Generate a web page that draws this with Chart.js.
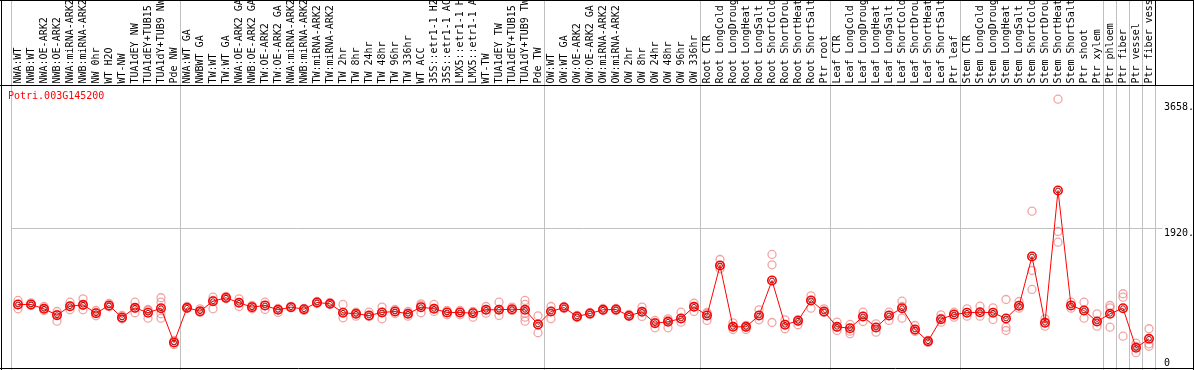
<!DOCTYPE html>
<html>
<head>
<meta charset="utf-8">
<script src="https://cdn.jsdelivr.net/npm/chart.js@4.4.0/dist/chart.umd.min.js"></script>
<style>
html,body{margin:0;padding:0;background:#fff;overflow:hidden;}
#wrap{width:1194px;height:370px;position:relative;}
canvas{display:block;}
</style>
</head>
<body>
<div id="wrap"><canvas id="c" width="1194" height="370"></canvas></div>
<script>
// ---------- data ----------
const geneId = 'Potri.003G145200';

const categories = [
  'NWA:WT','NWB:WT','NWA:OE-ARK2','NWB:OE-ARK2','NWA:miRNA-ARK2','NWB:miRNA-ARK2','NW 0hr','WT H2O','WT-NW',
  'TUA1dEY NW','TUA1dEY+TUB15 NW','TUA1dY+TUB9 NW','Pde NW',
  'NWA:WT GA','NWBWT GA','TW:WT','TW:WT GA','NWA:OE-ARK2 GA','NWB:OE-ARK2 GA','TW:OE-ARK2','TW:OE-ARK2 GA',
  'NWA:miRNA-ARK2','NWB:miRNA-ARK2','TW:miRNA-ARK2','TW:miRNA-ARK2','TW 2hr','TW 8hr','TW 24hr','TW 48hr',
  'TW 96hr','TW 336hr','WT ACC','35S::etr1-1 H2O','35S::etr1-1 ACC','LMX5::etr1-1 H2O','LMX5::etr1-1 ACC',
  'WT-TW','TUA1dEY TW','TUA1dEY+TUB15 TW','TUA1dY+TUB9 TW','Pde TW',
  'OW:WT','OW:WT GA','OW:OE-ARK2','OW:OE-ARK2 GA','OW:miRNA-ARK2','OW:miRNA-ARK2','OW 2hr','OW 8hr',
  'OW 24hr','OW 48hr','OW 96hr','OW 336hr',
  'Root CTR','Root LongCold','Root LongDrought','Root LongHeat','Root LongSalt','Root ShortCold',
  'Root ShortDrought','Root ShortHeat','Root ShortSalt','Ptr root',
  'Leaf CTR','Leaf LongCold','Leaf LongDrought','Leaf LongHeat','Leaf LongSalt','Leaf ShortCold',
  'Leaf ShortDrought','Leaf ShortHeat','Leaf ShortSalt','Ptr leaf',
  'Stem CTR','Stem LongCold','Stem LongDrought','Stem LongHeat','Stem LongSalt','Stem ShortCold',
  'Stem ShortDrought','Stem ShortHeat','Stem ShortSalt','Ptr shoot','Ptr xylem',
  'Ptr phloem','Ptr fiber','Ptr vessel','Ptr fiber vessel'
];

// index of the first category of each group (group separators)
const groupStarts = [0, 13, 41, 53, 63, 73, 84, 85, 86, 87, 88];

const meanValues = [
  880, 880, 820, 733, 856, 875, 760, 866, 701, 834, 766, 829, 357,
  834, 788, 925, 972, 903, 843, 866, 807, 843, 815, 907, 889, 766, 752, 728, 770,
  783, 752, 843, 820, 770, 770, 760, 807, 807, 815, 807, 605,
  783, 838, 715, 756, 807, 811, 724, 779, 623, 642, 687, 848,
  728, 1416, 573, 573, 728, 1209, 601, 656, 935, 783,
  573, 554, 715, 564, 728, 829, 536, 375, 678, 742,
  766, 774, 766, 687, 862, 1539, 628, 2446, 866, 797, 646,
  752, 829, 284, 408
];

const replicates = [
  [935,820,880],[903,866,880],[852,797,825],[783,650,742],[911,807,852],[958,807,866],
  [724,797,770],[893,852,852],[728,683,687],[911,766,825],[811,691,797],[972,911,752,691],
  [385,330,357],
  [852,825,834],[820,770,783],[980,820,935],[990,962,962],[958,852,907],[820,866,852],
  [911,811,866],[770,825,811],[852,838,843],[825,797,815],[921,893,907],[907,880,889],
  [880,697,770],[774,719,756],[774,715,728],[843,683,770],[811,756,783],[719,783,756],
  [889,766,866],[880,783,825],[797,738,770],[797,738,770],[705,783,770],[852,760,811],
  [911,728,811],[843,797,811],[935,880,760,705,650],[724,491,605],
  [852,683,783],[852,825,838],[728,701,715],[770,742,756],[825,797,807],[825,797,811],
  [742,715,724],[843,715,783],[660,559,632],[683,559,660],[774,636,687],[897,783,852],
  [660,756,770],[1498,1370,1416],[628,536,577],[536,591,564],[807,669,728],[1567,1425,632],
  [669,546,605],[601,673,646],[999,829,935],[820,770,783],
  [636,522,564],[605,477,513],[774,646,715],[614,499,564],[774,660,728],[925,691,852],
  [591,509,522],[385,357,371],[738,636,687],[774,705,742],
  [820,719,770],[856,719,770],[834,673,770],[948,568,522],[921,829,866],[2162,1347,1086],
  [683,581,632],[1883,1736,3701],[911,829,866],[911,691,797],[752,581,646],
  [866,834,568],[1027,980,444],[348,216,302],[546,339,306]
];

const yTickValues = [0, 1920, 3658];
const yTickLabels = ['0', '1920.', '3658.'];
const yMax = 3889;

// ---------- chart ----------
const FONT = "'DejaVu Sans Mono', monospace";
const maxReps = Math.max(...replicates.map(r => r.length));
const repDatasets = [];
for (let k = 0; k < maxReps; k++) {
  repDatasets.push({
    label: 'rep' + (k + 1),
    data: replicates.map(r => (r[k] === undefined ? null : r[k])),
    showLine: false,
    pointStyle: 'circle',
    pointRadius: 4,
    pointBorderWidth: 1.3,
    pointBorderColor: 'rgba(235,125,125,0.7)',
    pointBackgroundColor: 'rgba(0,0,0,0)',
    order: 5
  });
}

const framePlugin = {
  id: 'framePlugin',
  beforeDatasetsDraw(chart) {
    const ctx = chart.ctx;
    const xs = chart.scales.x;
    const half = (xs.getPixelForValue(1) - xs.getPixelForValue(0)) / 2;
    ctx.save();
    ctx.strokeStyle = '#c0c0c0';
    ctx.lineWidth = 1;
    groupStarts.forEach(g => {
      const px = g < categories.length ? xs.getPixelForValue(g) - half : xs.getPixelForValue(categories.length - 1) + half;
      const x = Math.floor(px) + 0.5;
      ctx.beginPath();
      ctx.moveTo(x, 0);
      ctx.lineTo(x, chart.height);
      ctx.stroke();
    });
    ctx.restore();
  },
  afterDraw(chart) {
    const ctx = chart.ctx;
    const a = chart.chartArea;
    const W = chart.width, H = chart.height;
    ctx.save();
    ctx.strokeStyle = '#000';
    ctx.lineWidth = 1;
    ctx.beginPath();
    // outer frame
    ctx.moveTo(1.5, 0); ctx.lineTo(1.5, H);
    ctx.moveTo(W - 0.5, 0); ctx.lineTo(W - 0.5, H);
    ctx.moveTo(0, 0.5); ctx.lineTo(W, 0.5);
    ctx.moveTo(0, Math.floor(a.bottom) + 0.5); ctx.lineTo(W, Math.floor(a.bottom) + 0.5);
    // label area separator
    ctx.moveTo(0, Math.floor(a.top) + 0.5); ctx.lineTo(W, Math.floor(a.top) + 0.5);
    // right edge of label area
    const rx = Math.floor(a.right) + 0.5;
    ctx.moveTo(rx, 0); ctx.lineTo(rx, a.top);
    ctx.stroke();
    // gene id title
    ctx.fillStyle = '#ff0000';
    ctx.font = "10px " + FONT;
    ctx.textBaseline = 'middle';
    ctx.textAlign = 'left';
    ctx.fillText(geneId, 8, 96.5);
    ctx.restore();
  }
};

new Chart(document.getElementById('c'), {
  type: 'line',
  data: {
    labels: categories,
    datasets: [
      {
        label: 'mean',
        data: meanValues,
        borderColor: '#ff0000',
        borderWidth: 1,
        tension: 0,
        pointStyle: 'circle',
        pointRadius: 4.2,
        pointBorderWidth: 1.6,
        pointBorderColor: '#ff0000',
        pointBackgroundColor: 'rgba(0,0,0,0)',
        order: 0
      },
      {
        label: 'meanInner',
        data: meanValues,
        showLine: false,
        pointStyle: 'circle',
        pointRadius: 2.4,
        pointBorderWidth: 0.9,
        pointBorderColor: '#700000',
        pointBackgroundColor: 'rgba(0,0,0,0)',
        order: 1
      },
      ...repDatasets
    ]
  },
  options: {
    responsive: false,
    devicePixelRatio: 1,
    animation: false,
    events: [],
    layout: { autoPadding: false, padding: { left: 11.5, right: 0, top: 0, bottom: 1.5 } },
    plugins: { legend: { display: false }, tooltip: { enabled: false }, title: { display: false } },
    scales: {
      x: {
        type: 'category',
        position: 'top',
        offset: true,
        grid: { display: false, drawTicks: false },
        border: { display: false },
        ticks: {
          autoSkip: false,
          minRotation: 90,
          maxRotation: 90,
          color: '#000',
          padding: 2,
          labelOffset: 10,
          font: { family: FONT, size: 10, lineHeight: 1 }
        },
        afterFit(scale) {
          scale.height = 85.5;
          scale.paddingLeft = 0; scale.paddingRight = 0;
          scale.paddingTop = 0; scale.paddingBottom = 0;
        }
      },
      y: {
        position: 'right',
        min: 0,
        max: yMax,
        border: { display: false },
        grid: {
          color: c => (c.tick && c.tick.value === 1920 ? '#c0c0c0' : 'rgba(0,0,0,0)'),
          lineWidth: 1,
          drawTicks: true,
          tickLength: 7
        },
        afterBuildTicks(scale) { scale.ticks = yTickValues.map(v => ({ value: v })); },
        ticks: {
          color: '#000',
          padding: 1.5,
          font: { family: FONT, size: 10, lineHeight: 1 },
          callback: (v) => {
            const i = yTickValues.indexOf(v);
            const t = i >= 0 ? yTickLabels[i] : '';
            return v === 0 ? [t, ''] : ['', t];
          }
        },
        afterFit(scale) {
          scale.width = 38.5;
          scale.paddingTop = 0; scale.paddingBottom = 0;
          scale.paddingLeft = 0; scale.paddingRight = 0;
        }
      }
    }
  },
  plugins: [framePlugin]
});
</script>
</body>
</html>
